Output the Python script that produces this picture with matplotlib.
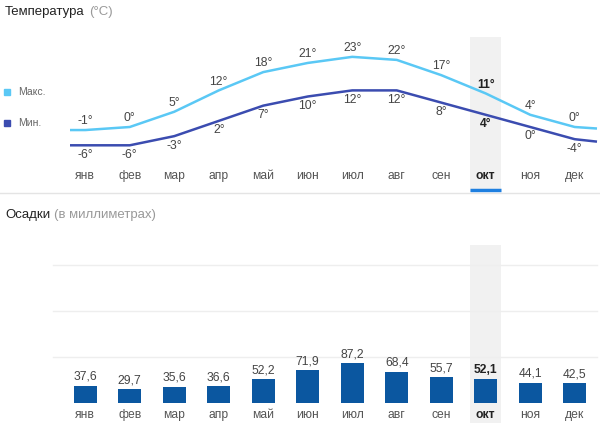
import matplotlib
matplotlib.use("Agg")
import matplotlib.pyplot as plt
from matplotlib.lines import Line2D

plt.rcParams["font.family"] = ["Liberation Sans", "DejaVu Sans"]

# Data
months = ["янв", "фев", "мар", "апр", "май", "июн",
          "июл", "авг", "сен", "окт", "ноя", "дек"]
t_max = [-1, 0, 5, 12, 18, 21, 23, 22, 17, 11, 4, 0]
t_min = [-6, -6, -3, 2, 7, 10, 12, 12, 8, 4, 0, -4]
precip = [37.6, 29.7, 35.6, 36.6, 52.2, 71.9, 87.2, 68.4, 55.7, 52.1, 44.1, 42.5]
current = 9  # окт

W, H = 600, 423
fig = plt.figure(figsize=(W / 100, H / 100), dpi=100)

c_max = "#5ac8f5"
c_min = "#3b4cb0"
c_bar = "#0b57a0"
band = "#f1f1f1"
dark = "#222222"
grey = "#666666"

# pixel -> data helpers for x (column width 44.5 px, first column starts at 63 px)
x0_px, col = 63.0, 44.5
xl = ((0 - x0_px) / col - 0.5, (W - x0_px) / col - 0.5)
xs = list(range(len(months)))


def frac(y_top, y_bot):
    return [0, 1 - y_bot / H, 1, (y_bot - y_top) / H]


# ---------- temperature ----------
ax = fig.add_axes(frac(37, 192))
ppd = 3.05  # pixels per degree, 0 deg at y=127 px
ax.set_xlim(*xl)
ax.set_ylim((127 - 192) / ppd, (127 - 37) / ppd)
ax.axis("off")
ax.axvspan(current - 0.35, current + 0.35, color=band, lw=0, zorder=0)

x_ext = [(70 - x0_px) / col - 0.5] + xs + [11.5]
ax.plot(x_ext, [t_max[0]] + t_max + [t_max[-1] - 0.5], color=c_max, lw=1.8,
        solid_capstyle="butt", zorder=3)
ax.plot(x_ext, [t_min[0]] + t_min + [t_min[-1] - 0.8], color=c_min, lw=1.8,
        solid_capstyle="butt", zorder=3)

for i, (hi, lo) in enumerate(zip(t_max, t_min)):
    bold = i == current
    kw = dict(ha="center", fontsize=8.7, color=dark if bold else "#444444",
              fontweight="bold" if bold else "normal", zorder=4)
    ax.annotate(f"{hi}°", (i, hi), xytext=(0, 2), textcoords="offset points",
                va="bottom", **kw)
    ax.annotate(f"{lo}°", (i, lo), xytext=(0, -2.5), textcoords="offset points",
                va="top", **kw)
    ax.text(i, (127 - 176) / ppd, months[i], ha="center", va="center",
            fontsize=8.7, color=dark if bold else "#555555",
            fontweight="bold" if bold else "normal")

# blue underline under current month and divider
ax.plot([current - 0.35, current + 0.35], [(127 - 190.5) / ppd] * 2,
        color="#1e7fe0", lw=2.5, solid_capstyle="butt", clip_on=False)
fig.add_artist(Line2D([0, 1], [1 - 192.5 / H] * 2, color="#e4e4e4", lw=1))

# legend
for y_px, lab, c in [(92, "Макс.", c_max), (123, "Мин.", c_min)]:
    fig.add_artist(Line2D([7 / W], [1 - y_px / H], marker="s", ms=4.5,
                          color=c, lw=0))
    fig.text(18 / W, 1 - y_px / H, lab, fontsize=7.5, color=grey,
             va="center", ha="left")

# titles
fig.text(5 / W, 1 - 12 / H, "Температура", fontsize=9.5, color=dark,
         va="center")
fig.text(89 / W, 1 - 12 / H, "(°C)", fontsize=9.5, color="#999999",
         va="center")
fig.text(5 / W, 1 - 215 / H, "Осадки", fontsize=9.5, color=dark, va="center")
fig.text(54 / W, 1 - 215 / H, "(в миллиметрах)", fontsize=9.5,
         color="#999999", va="center")

# ---------- precipitation ----------
bx = fig.add_axes(frac(245, 423))
ppm = 0.459  # pixels per mm, 0 at y=403 px
bx.set_xlim(*xl)
bx.set_ylim((403 - 423) / ppm, (403 - 245) / ppm)
bx.axis("off")
bx.axvspan(current - 0.35, current + 0.35, color=band, lw=0, zorder=0)
for g in (100, 200, 300):
    bx.plot([(53 - x0_px) / col - 0.5, 11.5], [g, g], color="#eeeeee",
            lw=1, zorder=1)

bx.bar(xs, precip, width=0.52, color=c_bar, zorder=2)
for i, v in enumerate(precip):
    bold = i == current
    bx.annotate(f"{v:.1f}".replace(".", ","), (i, v), xytext=(0, 2),
                textcoords="offset points", ha="center", va="bottom",
                fontsize=8.7, color=dark if bold else "#444444",
                fontweight="bold" if bold else "normal")
    bx.text(i, (403 - 415) / ppm, months[i], ha="center", va="center",
            fontsize=8.7, color=dark if bold else "#555555",
            fontweight="bold" if bold else "normal")

fig.savefig("out.png", dpi=100)
